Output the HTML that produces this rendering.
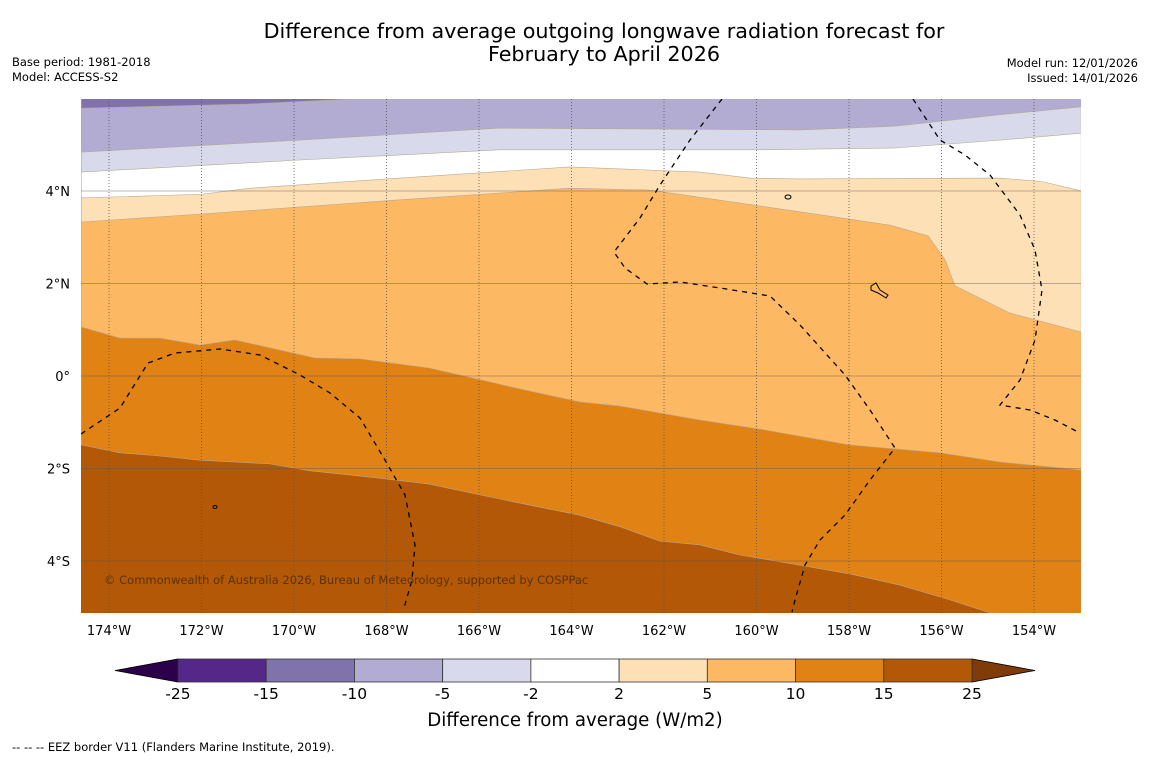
<!DOCTYPE html>
<html><head><meta charset="utf-8">
<style>
body{margin:0;background:#fff;}
svg{display:block;font-family:"DejaVu Sans","Liberation Sans",sans-serif;}
</style></head>
<body>
<svg id="chart" width="1150" height="758" viewBox="0 0 1150 758" xmlns="http://www.w3.org/2000/svg">
<rect width="1150" height="758" fill="#fff"/>
<text x="604" y="38" font-size="20.7" text-anchor="middle">Difference from average outgoing longwave radiation forecast for</text>
<text x="604" y="61" font-size="20.7" text-anchor="middle">February to April 2026</text>
<text x="12" y="66" font-size="11.5">Base period: 1981-2018</text>
<text x="12" y="81" font-size="11.5">Model: ACCESS-S2</text>
<text x="1138" y="67" font-size="11.5" text-anchor="end">Model run: 12/01/2026</text>
<text x="1138" y="82" font-size="11.5" text-anchor="end">Issued: 14/01/2026</text>
<defs><clipPath id="mapclip"><rect x="81" y="99" width="1000" height="514"/></clipPath></defs>
<g id="map" clip-path="url(#mapclip)"></g>
<g id="grat"></g>
<g id="eez" clip-path="url(#mapclip)" fill="none" stroke="#000" stroke-width="1.3" stroke-dasharray="5,5">
<path d="M81,434 L120,408 L148,363 L175,353 L220,349 L260,355 L300,375 L330,393 L360,418 L385,460 L405,495 L415,545 L412,580 L404,608"/>
<path d="M722,99 L690,140 L660,185 L640,218 L614,252 L625,268 L647,284 L680,282 L720,288 L770,296 L800,325 L845,375 L870,410 L895,448 L870,480 L845,515 L820,540 L805,565 L795,600 L792,612"/>
<path d="M913,99 L940,140 L965,155 L990,175 L1020,215 L1035,250 L1042,290 L1035,340 L1020,380 L1000,405 L1030,410 L1055,420 L1078,432"/>
</g>
<g fill="none" stroke="#000" stroke-width="1">
<ellipse cx="788" cy="197" rx="3" ry="2"/>
<path d="M871,286 L876,283 L880,290 L888,295 L886,298 L878,293 L871,290Z"/>
<ellipse cx="215" cy="507" rx="2" ry="1.5"/>
</g>
<text x="104" y="584" font-size="11.5" fill="#5a3208">© Commonwealth of Australia 2026, Bureau of Meteorology, supported by COSPPac</text>
<g id="cbar"></g>
<text x="575" y="726" font-size="18.2" text-anchor="middle">Difference from average (W/m2)</text>
<text x="12" y="751" font-size="11.5">--  --  -- EEZ border V11 (Flanders Marine Institute, 2019).</text>
</svg>
<script>
// boundaries: [lonW, lat] (lon in degrees West)
const topDarkPurple = [[174.6,5.79],[171,5.88],[168.57,6.0]];
const topPurple = [[174.6,4.84],[169.87,5.10],[165.55,5.36],[159.06,5.32],[157,5.40],[154.73,5.65],[152.98,5.82]];
const topLavender = [[174.6,4.41],[169.87,4.67],[165.55,4.89],[159.92,4.89],[157,4.93],[154.73,5.1],[152.98,5.25]];
const topWhite = [[174.6,3.85],[172,3.93],[170.95,4.06],[167.71,4.28],[164.03,4.52],[161.23,4.41],[160.14,4.28],[159.06,4.26],[154.73,4.28],[153.8,4.2],[152.98,4.0]];
const topPeach = [[174.6,3.33],[172.03,3.50],[167.71,3.81],[164.03,4.06],[162.3,4.02],[159.06,3.55],[157.11,3.26],[156.29,3.03],[155.92,2.51],[155.71,1.95],[154.52,1.36],[152.98,0.95]];
const topLightOrange = [[174.6,1.06],[173.76,0.82],[172.9,0.82],[172.03,0.67],[171.28,0.78],[170.52,0.61],[169.55,0.39],[168.57,0.37],[167.06,0.17],[165.11,-0.28],[163.82,-0.56],[162.95,-0.65],[161.23,-0.95],[159.92,-1.15],[157.98,-1.49],[156.03,-1.66],[154.73,-1.86],[152.98,-2.03]];
const topOrange = [[174.6,-1.49],[173.76,-1.66],[172.9,-1.73],[172.03,-1.82],[170.52,-1.90],[169.65,-2.05],[168.14,-2.21],[167.06,-2.34],[165.98,-2.57],[165.11,-2.75],[163.82,-3.01],[162.95,-3.26],[162.09,-3.57],[161.23,-3.65],[160.36,-3.87],[159.06,-4.09],[157.98,-4.28],[156.9,-4.52],[155.82,-4.84],[154.95,-5.12],[152.98,-5.3]];
const bandColors = ['#b35806','#e08214','#fdb863','#fee0b6','#ffffff','#d8daeb','#b2abd2','#8073ac'];
const lonTicks = [174,172,170,168,166,164,162,160,158,156,154];
const latTicks = [4,2,0,-2,-4];
const cbarLevels = ['-25','-15','-10','-5','-2','2','5','10','15','25'];
const cbarColors = ['#542788','#8073ac','#b2abd2','#d8daeb','#ffffff','#fee0b6','#fdb863','#e08214','#b35806'];

const X0=109, LON0=174, PX=46.25, Y0=376;
const xs = lonW => X0 + (LON0 - lonW)*PX;
const ys = lat => Y0 - lat*PX;
const NS='http://www.w3.org/2000/svg';
const map=document.getElementById('map');
function mk(tag,attrs,parent){const e=document.createElementNS(NS,tag);for(const k in attrs)e.setAttribute(k,attrs[k]);parent.appendChild(e);return e;}

const bg=mk('rect',{x:81,y:99,width:1000,height:514,fill:bandColors[0]},map);


const layers=[topOrange,topLightOrange,topPeach,topWhite,topLavender,topPurple,topDarkPurple];
const names=['band-10-to-15','band-5-to-10','band-2-to-5','band-neutral','band-minus5-to-minus2','band-minus10-to-minus5','band-minus15-to-minus10'];
layers.forEach((b,i)=>{
  let d='M'+xs(b[0][0])+','+ys(7);
  b.forEach(p=>{d+=' L'+xs(p[0])+','+ys(p[1]);});
  d+=' L'+xs(b[b.length-1][0])+','+ys(7)+' Z';
  const p=mk('path',{d:d,fill:bandColors[i+1],stroke:'#b8a890','stroke-width':0.6},map);
  
  
});

const g=document.getElementById('grat');
lonTicks.forEach(l=>{
  const x=xs(l);
  const ln=mk('line',{x1:x,x2:x,y1:99,y2:613,stroke:'#555','stroke-width':0.8,'stroke-dasharray':'1,2'},g);
  
  
  const t=mk('text',{x:x,y:635,'font-size':13,'text-anchor':'middle'},g);
  t.textContent=l+'°W';
  
  
});
latTicks.forEach(l=>{
  const y=ys(l);
  const ln=mk('line',{x1:81,x2:1081,y1:y,y2:y,stroke:'rgba(90,80,90,0.4)','stroke-width':1},g);
  
  
  const t=mk('text',{x:70,y:y+5,'font-size':13,'text-anchor':'end'},g);
  t.textContent=l===0?'0°':(Math.abs(l)+'°'+(l>0?'N':'S'));
  
  
});

const cb=document.getElementById('cbar');
const cx0=178,cx1=972,cy=659,ch=23,sw=(cx1-cx0)/cbarColors.length;
const lt=mk('polygon',{points:`115,${cy+ch/2} ${cx0},${cy} ${cx0},${cy+ch}`,fill:'#2d004b',stroke:'#000','stroke-width':0.8},cb);


const rt=mk('polygon',{points:`1035,${cy+ch/2} ${cx1},${cy} ${cx1},${cy+ch}`,fill:'#7f3b08',stroke:'#000','stroke-width':0.8},cb);


cbarColors.forEach((c,i)=>{
  const r=mk('rect',{x:cx0+i*sw,y:cy,width:sw,height:ch,fill:c,stroke:'#333','stroke-width':0.8},cb);
  
  
});
cbarLevels.forEach((v,i)=>{
  const t=mk('text',{x:cx0+i*sw,y:699,'font-size':15.5,'text-anchor':'middle'},cb);
  t.textContent=v;
  
  
});
</script>
</body></html>
